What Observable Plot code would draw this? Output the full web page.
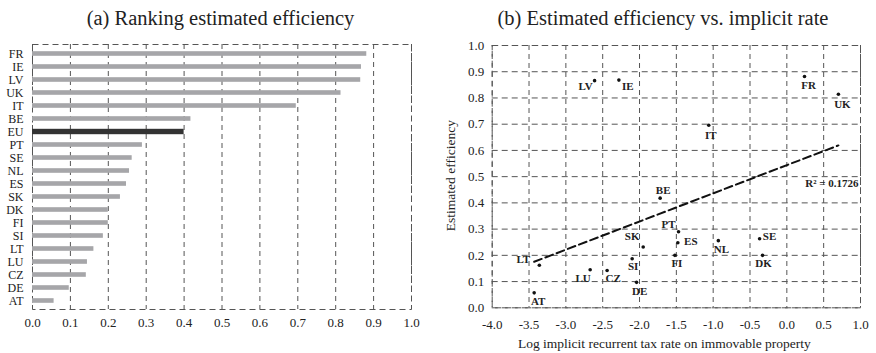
<!DOCTYPE html>
<html><head><meta charset="utf-8">
<script src="https://cdn.jsdelivr.net/npm/d3@7"></script>
<script src="https://cdn.jsdelivr.net/npm/@observablehq/plot@0.6"></script>
<style>
body{margin:0;background:#fff;}
#wrap{position:relative;width:876px;height:353px;font-family:"Liberation Serif","Times New Roman",serif;overflow:hidden;}
.title{position:absolute;top:6px;font-size:20.5px;line-height:24px;text-align:center;color:#222;white-space:nowrap;}
#a,#b{position:absolute;top:30px;}
</style></head><body>
<div id="wrap">
<div class="title" style="left:0;width:441px">(a) Ranking estimated efficiency</div>
<div class="title" style="left:440px;width:446px">(b) Estimated efficiency vs. implicit rate</div>
<div id="a" style="left:0"></div>
<div id="b" style="left:440px"></div>
</div>
<script>
// ---- data ----
const countries = ["FR","IE","LV","UK","IT","BE","EU","PT","SE","NL","ES","SK","DK","FI","SI","LT","LU","CZ","DE","AT"];
const efficiency = [0.882,0.868,0.866,0.814,0.696,0.418,0.400,0.290,0.263,0.256,0.248,0.232,0.200,0.200,0.187,0.162,0.145,0.142,0.097,0.057];
// log implicit recurrent tax rate on immovable property (no EU point)
const scatterCountries = ["FR","IE","LV","UK","IT","BE","PT","SE","NL","ES","SK","DK","FI","SI","LT","LU","CZ","DE","AT"];
const logRate = [0.24,-2.28,-2.61,0.70,-1.06,-1.72,-1.47,-0.37,-0.93,-1.48,-1.95,-0.33,-1.52,-2.10,-3.36,-2.67,-2.44,-2.04,-3.43];
const ticksA = [0,0.1,0.2,0.3,0.4,0.5,0.6,0.7,0.8,0.9,1.0];
const ticksBx = [-4.0,-3.5,-3.0,-2.5,-2.0,-1.5,-1.0,-0.5,0.0,0.5,1.0];
const ticksBy = [0,0.1,0.2,0.3,0.4,0.5,0.6,0.7,0.8,0.9,1.0];
const r2Label = "R² = 0.1726";
const xTitle = "Log implicit recurrent tax rate on immovable property";
const yTitle = "Estimated efficiency";

// ---- style ----
const SERIF = "'Liberation Serif','Times New Roman',serif";
const GRID = "#555";
const fmt = d => d.toFixed(1);

const rowsA = countries.map((c, i) => ({country: c, value: efficiency[i]}));
const effOf = Object.fromEntries(rowsA.map(d => [d.country, d.value]));
const rowsB = scatterCountries.map((c, i) => ({country: c, x: logRate[i], y: effOf[c]}));

// label placement offsets (style, not data)
const off = {
  LV:[-9,6], IE:[9,6], FR:[4,9], UK:[4,10], IT:[2,10], BE:[3,-8], PT:[-10,-7],
  ES:[13,-1], FI:[2,8], NL:[3,9], SE:[10,-2], DK:[1,8], LT:[-16,-6], AT:[4,9],
  LU:[-7,9], CZ:[6,8], SI:[1,8], DE:[3,9], SK:[-11,-10]
};

const chartA = Plot.plot({
  width: 440, height: 323,
  marginTop: 14, marginBottom: 44, marginLeft: 32, marginRight: 29,
  style: {fontFamily: SERIF, fontSize: "13px", color: "#222", background: "transparent"},
  x: {domain: [0, 1]},
  y: {domain: countries, padding: 0},
  marks: [
    Plot.ruleX(ticksA, {stroke: GRID, strokeDasharray: "5,4"}),
    Plot.frame({stroke: GRID, strokeDasharray: "6,4"}),
    Plot.barX(rowsA.filter(d => d.country !== "EU"), {x: "value", y: "country", fill: "#a6a6a9", insetTop: 4.2, insetBottom: 4.2}),
    Plot.barX(rowsA.filter(d => d.country === "EU"), {x: "value", y: "country", fill: "#333", insetTop: 3.8, insetBottom: 3.8}),
    Plot.axisY({tickSize: 0, tickPadding: 9, fontSize: 12, label: null}),
    Plot.axisX({ticks: ticksA, tickFormat: fmt, tickSize: 0, tickPadding: 8, label: null})
  ]
});
document.getElementById("a").append(chartA);

const labelMarks = rowsB.map(d => Plot.text([d], {
  x: "x", y: "y", text: "country", fontWeight: "bold", fontSize: 11,
  dx: off[d.country][0], dy: off[d.country][1], fill: "#222"
}));

const chartB = Plot.plot({
  width: 436, height: 323,
  marginTop: 15, marginBottom: 45.7, marginLeft: 51.7, marginRight: 16,
  style: {fontFamily: SERIF, fontSize: "13px", color: "#222", background: "transparent"},
  x: {domain: [-4, 1]},
  y: {domain: [0, 1]},
  marks: [
    Plot.ruleX(ticksBx, {stroke: GRID, strokeDasharray: "5,4"}),
    Plot.ruleY(ticksBy, {stroke: GRID, strokeDasharray: "6,4"}),
    Plot.frame({stroke: GRID, strokeDasharray: "6,4"}),
    Plot.linearRegressionY(rowsB, {x: "x", y: "y", ci: 0, stroke: "#111", strokeWidth: 2, strokeDasharray: "8,4"}),
    Plot.dot(rowsB, {x: "x", y: "y", r: 1.8, fill: "#111", stroke: "none"}),
    ...labelMarks,
    Plot.text([r2Label], {frameAnchor: "right", textAnchor: "end", dx: -2, dy: 7, fontWeight: "bold", fontSize: 11, fill: "#222"}),
    Plot.axisY({ticks: ticksBy, tickFormat: fmt, tickSize: 0, tickPadding: 8, label: null}),
    Plot.axisX({ticks: ticksBx, tickFormat: fmt, tickSize: 0, tickPadding: 12, label: null}),
    Plot.text([xTitle], {frameAnchor: "bottom", textAnchor: "middle", lineAnchor: "middle", dx: -12, dy: 36, fontSize: 13.5}),
    Plot.text([yTitle], {frameAnchor: "left", textAnchor: "middle", lineAnchor: "middle", rotate: -90, dx: -42, dy: -1, fontSize: 13.5})
  ]
});
document.getElementById("b").append(chartB);
</script>
</body></html>
